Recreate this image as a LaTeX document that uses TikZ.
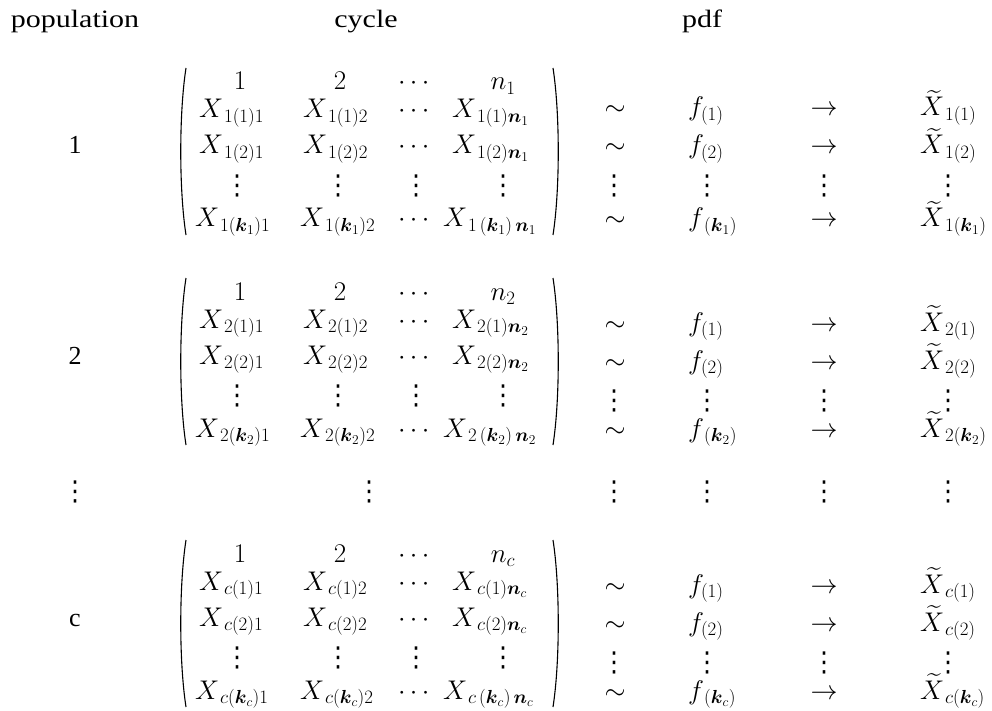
\documentclass[tikz,border=0pt]{standalone}
\usepackage{fix-cm}
\usepackage{amsmath}
\usepackage{graphicx}
\usepackage{fontspec}
\setmainfont{Liberation Serif}
\newfontfamily\djv{DejaVu Sans}
\newcommand\vdd{\scalebox{1}[1.1]{\djv ⋮}}
\begin{document}
\begin{tikzpicture}[x=1pt,y=-1pt,
  every node/.style={inner sep=0pt,outer sep=0pt},
  hd/.style={font=\fontsize{25}{30}\selectfont,anchor=base},
  tx/.style={font=\fontsize{26}{30}\selectfont,anchor=base},
  m/.style={font=\fontsize{27}{30}\selectfont,anchor=base west},
  mc/.style={font=\fontsize{27}{30}\selectfont,anchor=base},
  vd/.style={font=\fontsize{25}{30}\selectfont,anchor=center},
  paren/.style={line width=1.1pt,black}]
\useasboundingbox (0,0) rectangle (992,711);
% headers
\node[hd] (hpop) at (75,28) {\scalebox{1.2}[1]{population}};
\node[hd] (hcyc) at (366,28) {\scalebox{1.2}[1]{cycle}};
\node[hd] (hpdf) at (702,28) {\scalebox{1.2}[1]{pdf}};
\foreach \b/\p/\T/\dr in {1/1/68/0, 2/2/278/5, 3/c/540/5} {
  \node[tx] (lab\b) at (75,\T+86) {\p};
  % parentheses
  \coordinate (plt\b) at (186,\T);
  \coordinate (plb\b) at (186,\T+167);
  \coordinate (prt\b) at (553,\T);
  \coordinate (prb\b) at (553,\T+167);
  \draw[paren] (plt\b) .. controls (179,\T+45) and (179,\T+122) .. (plb\b);
  \draw[paren] (prt\b) .. controls (560,\T+45) and (560,\T+122) .. (prb\b);
  % header row
  \node[mc] (h\b a) at (240,\T+22) {$1$};
  \node[mc] (h\b b) at (340,\T+22) {$2$};
  \node[mc] (h\b c) at (416,\T+22) {$\cdots$};
  \node[mc] (h\b d) at (503,\T+22) {$n_{\p}$};
  % row 1
  \node[m] (r\b a1) at (199,\T+50) {$X_{\,\p(1)1}$};
  \node[m] (r\b b1) at (303,\T+50) {$X_{\,\p(1)2}$};
  \node[mc] (r\b c1) at (416,\T+50) {$\cdots$};
  \node[m] (r\b d1) at (452,\T+50) {$X_{\,\p(1)\boldsymbol{n}_{\p}}$};
  % row 2
  \node[m] (r\b a2) at (199,\T+86) {$X_{\,\p(2)1}$};
  \node[m] (r\b b2) at (303,\T+86) {$X_{\,\p(2)2}$};
  \node[mc] (r\b c2) at (416,\T+86) {$\cdots$};
  \node[m] (r\b d2) at (452,\T+86) {$X_{\,\p(2)\boldsymbol{n}_{\p}}$};
  % dots row
  \node[vd] (r\b a3) at (237,\T+118) {\vdd};
  \node[vd] (r\b b3) at (338,\T+118) {\vdd};
  \node[vd] (r\b c3) at (416,\T+118) {\vdd};
  \node[vd] (r\b d3) at (503,\T+118) {\vdd};
  % row k
  \node[m] (r\b a4) at (195,\T+159) {$X_{\,\p(\boldsymbol{k}_{\p})1}$};
  \node[m] (r\b b4) at (300,\T+159) {$X_{\,\p(\boldsymbol{k}_{\p})2}$};
  \node[mc] (r\b c4) at (416,\T+159) {$\cdots$};
  \node[m] (r\b d4) at (443,\T+159) {$X_{\,\p\,(\boldsymbol{k}_{\p})\,\boldsymbol{n}_{\p}}$};
  % right side
  \node[mc] (s\b 1) at (615,\T+48+\dr) {$\sim$};
  \node[m]  (f\b 1) at (688,\T+48+\dr) {$f_{(1)}$};
  \node[mc] (a\b 1) at (824,\T+48+\dr) {$\rightarrow$};
  \node[m]  (x\b 1) at (920,\T+48+\dr) {$\widetilde{X}_{\,\p(1)}$};
  \node[mc] (s\b 2) at (615,\T+86+\dr) {$\sim$};
  \node[m]  (f\b 2) at (688,\T+86+\dr) {$f_{(2)}$};
  \node[mc] (a\b 2) at (824,\T+86+\dr) {$\rightarrow$};
  \node[m]  (x\b 2) at (920,\T+86+\dr) {$\widetilde{X}_{\,\p(2)}$};
  \node[vd] (s\b 3) at (614,\T+118+\dr) {\vdd};
  \node[vd] (f\b 3) at (707,\T+118+\dr) {\vdd};
  \node[vd] (a\b 3) at (824,\T+118+\dr) {\vdd};
  \node[vd] (x\b 3) at (948,\T+118+\dr) {\vdd};
  \node[mc] (s\b 4) at (615,\T+159) {$\sim$};
  \node[m]  (f\b 4) at (688,\T+159) {$f_{\,(\boldsymbol{k}_{\p})}$};
  \node[mc] (a\b 4) at (824,\T+159) {$\rightarrow$};
  \node[m]  (x\b 4) at (920,\T+159) {$\widetilde{X}_{\,\p(\boldsymbol{k}_{\p})}$};
}
% middle dots row
\node[vd] (md1) at (75,492) {\vdd};
\node[vd] (md2) at (369,492) {\vdd};
\node[vd] (md3) at (614,492) {\vdd};
\node[vd] (md4) at (707,492) {\vdd};
\node[vd] (md5) at (824,492) {\vdd};
\node[vd] (md6) at (948,492) {\vdd};
\end{tikzpicture}
\end{document}
